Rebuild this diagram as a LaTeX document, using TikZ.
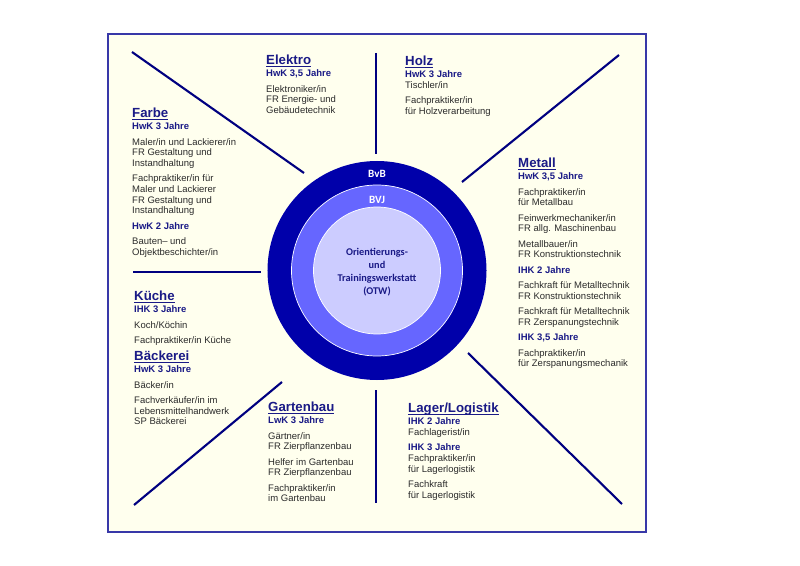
\documentclass[tikz,border=0pt]{standalone}
\usepackage{fontspec}
\setmainfont{Liberation Sans}
\newfontfamily\otwfont{Carlito}
\usepackage{xcolor}
\usepackage{tikz}
\usetikzlibrary{positioning}
\definecolor{OtwNavy}{HTML}{1A1A86}
\definecolor{OtwLine}{HTML}{000080}
\definecolor{OtwDeep}{HTML}{0000AA}
\definecolor{OtwMid}{HTML}{6666FF}
\definecolor{OtwPale}{HTML}{CCCCFF}
\definecolor{OtwCream}{HTML}{FFFFEE}
\definecolor{OtwFrame}{HTML}{3838A8}
\definecolor{OtwText}{HTML}{2B2B2B}
\newcommand{\grptitle}[1]{{\fontsize{11.3}{13}\selectfont\bfseries\color{OtwNavy}%
  \setbox0\hbox{#1}\rlap{\rule[-1.9pt]{\wd0}{1pt}}\box0}}
\newcommand{\kammer}[1]{{\bfseries\color{OtwNavy}#1}}

\begin{document}
\begin{tikzpicture}[x=0.03cm, y=-0.03cm,
  block/.style={anchor=north west, inner sep=0pt, align=left, text=OtwText,
    font=\fontsize{8.1}{9.13}\selectfont},
  spoke/.style={OtwLine, line width=1.8pt},
  ring/.style={circle, inner sep=0pt, draw=white, line width=0.6pt},
  ringlabel/.style={inner sep=0pt, text=white, font=\otwfont\bfseries\fontsize{9.5}{11}\selectfont}]
  \useasboundingbox (0,0) rectangle (800,566);
  \draw[OtwFrame, fill=OtwCream, line width=1.2pt] (108,34) rectangle (646,532);
  % spokes
  \foreach \xa/\ya/\xb/\yb in {132/52/304/173, 376/53/376/154, 619/55/462/182, 133/272/261/272,
     282/382/134/505, 376/390/376/503, 468/353/622/504}
     \draw[spoke] (\xa,\ya) -- (\xb,\yb);
  % rings
  \node[ring, draw=none, fill=OtwDeep, minimum size=6.57cm] (bvb) at (377,270.5) {};
  \node[ring, fill=OtwMid, minimum size=5.13cm] (bvj) at (377,270.5) {};
  \node[ring, fill=OtwPale, minimum size=3.81cm] (otw) at (377,270.5) {};
  \node[ringlabel] (bvbLab) at (377,174) {BvB};
  \node[ringlabel] (bvjLab) at (377,200) {BVJ};
  \node[align=center, inner sep=0pt, text=OtwNavy, font=\otwfont\bfseries\fontsize{8.8}{11.1}\selectfont]
     (otwLab) at (377,272.5) {Orientierungs-\\und\\Trainingswerkstatt\\(OTW)};
  % fields
  \node[block] (elektro) at (266,55) {\grptitle{Elektro}\\[1pt]
     \kammer{HwK 3,5 Jahre}\\[4pt]
     Elektroniker/in\\ FR Energie- und\\ Gebäudetechnik};
  \node[block] (holz) at (405,56) {\grptitle{Holz}\\[1pt]
     \kammer{HwK 3 Jahre}\\
     Tischler/in\\[4pt]
     Fachpraktiker/in\\ für Holzverarbeitung};
  \node[block] (farbe) at (132,108) {\grptitle{Farbe}\\[1pt]
     \kammer{HwK 3 Jahre}\\[4pt]
     Maler/in und Lackierer/in\\ FR Gestaltung und\\ Instandhaltung\\[4pt]
     Fachpraktiker/in für\\ Maler und Lackierer\\ FR Gestaltung und\\ Instandhaltung\\[4pt]
     \kammer{HwK 2 Jahre}\\[4pt]
     Bauten– und\\ Objektbeschichter/in};
  \node[block] (metall) at (518,158) {\grptitle{Metall}\\[1pt]
     \kammer{HwK 3,5 Jahre}\\[4pt]
     Fachpraktiker/in\\ für Metallbau\\[4pt]
     Feinwerkmechaniker/in\\ FR allg. Maschinenbau\\[4pt]
     Metallbauer/in\\ FR Konstruktionstechnik\\[4pt]
     \kammer{IHK 2 Jahre}\\[4pt]
     Fachkraft für Metalltechnik\\ FR Konstruktionstechnik\\[4pt]
     Fachkraft für Metalltechnik\\ FR Zerspanungstechnik\\[4pt]
     \kammer{IHK 3,5 Jahre}\\[4pt]
     Fachpraktiker/in\\ für Zerspanungsmechanik};
  \node[block] (kueche) at (134,291) {\grptitle{Küche}\\[1pt]
     \kammer{IHK 3 Jahre}\\[4pt]
     Koch/Köchin\\[4pt]
     Fachpraktiker/in Küche};
  \node[block] (baeckerei) at (134,351) {\grptitle{Bäckerei}\\[1pt]
     \kammer{HwK 3 Jahre}\\[4pt]
     Bäcker/in\\[4pt]
     Fachverkäufer/in im\\ Lebensmittelhandwerk\\ SP Bäckerei};
  \node[block] (garten) at (268,402) {\grptitle{Gartenbau}\\[1pt]
     \kammer{LwK 3 Jahre}\\[4pt]
     Gärtner/in\\ FR Zierpflanzenbau\\[4pt]
     Helfer im Gartenbau\\ FR Zierpflanzenbau\\[4pt]
     Fachpraktiker/in\\ im Gartenbau};
  \node[block] (lager) at (408,403) {\grptitle{Lager/Logistik}\\[1pt]
     \kammer{IHK 2 Jahre}\\
     Fachlagerist/in\\[4pt]
     \kammer{IHK 3 Jahre}\\
     Fachpraktiker/in\\ für Lagerlogistik\\[4pt]
     Fachkraft\\ für Lagerlogistik};
\end{tikzpicture}
\end{document}
